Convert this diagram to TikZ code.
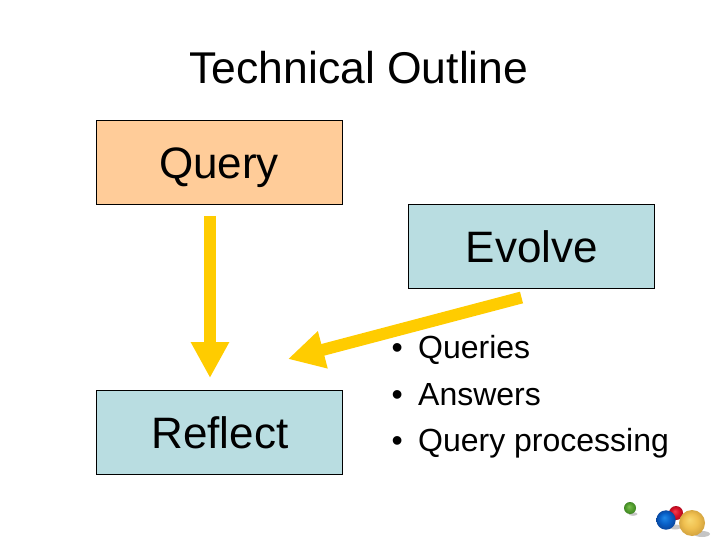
\documentclass[tikz,border=0pt]{standalone}
\usepackage{fontspec}
\setmainfont{Liberation Sans}
\usetikzlibrary{arrows.meta}
\definecolor{peach}{HTML}{FFCC99}
\definecolor{paleblue}{HTML}{B9DDE1}
\definecolor{arrowgold}{HTML}{FFCC00}
\definecolor{gA}{HTML}{7CC050}\definecolor{gB}{HTML}{55A030}\definecolor{gC}{HTML}{357A1E}
\definecolor{rA}{HTML}{F04050}\definecolor{rB}{HTML}{D81028}\definecolor{rC}{HTML}{A00818}
\definecolor{bA}{HTML}{2088E8}\definecolor{bB}{HTML}{0860C8}\definecolor{bC}{HTML}{0A3C8C}
\definecolor{yA}{HTML}{F8D870}\definecolor{yB}{HTML}{F0C050}\definecolor{yC}{HTML}{C89838}
\pgfdeclareradialshading{greensphere}{\pgfpoint{-5bp}{7bp}}{color(0bp)=(gA); color(14bp)=(gB); color(30bp)=(gC)}
\pgfdeclareradialshading{redsphere}{\pgfpoint{-5bp}{7bp}}{color(0bp)=(rA); color(14bp)=(rB); color(30bp)=(rC)}
\pgfdeclareradialshading{bluesphere}{\pgfpoint{-5bp}{7bp}}{color(0bp)=(bA); color(14bp)=(bB); color(30bp)=(bC)}
\pgfdeclareradialshading{goldsphere}{\pgfpoint{-5bp}{7bp}}{color(0bp)=(yA); color(14bp)=(yB); color(30bp)=(yC)}
\tikzset{
  box/.style={draw=black,line width=0.7pt,minimum width=246pt,minimum height=84pt,inner sep=0pt,text height=32pt,text depth=0pt,font=\fontsize{44}{48}\selectfont,text=black},
  flow/.style={draw=arrowgold,line width=12pt,-{Triangle[length=36pt,width=36pt,fill=arrowgold]}},
  item/.style={anchor=base west,inner sep=0pt,font=\fontsize{32}{36}\selectfont,text=black},
  groundshade/.style={fill=black!45,draw=none,opacity=0.5},
}
\begin{document}
\begin{tikzpicture}[x=1pt,y=-1pt]
\useasboundingbox (0,0) rectangle (720,540);
\fill[white] (0,0) rectangle (720,540);
\node[anchor=base,inner sep=0pt,font=\fontsize{44.5}{48}\selectfont] (title) at (359,84) {Technical Outline};
\node[box,fill=peach] (query) at (219,162.5) {Query};
\node[box,fill=paleblue] (evolve) at (531,246) {\hspace*{2pt}Evolve};
\node[box,fill=paleblue] (reflect) at (219,432) {\hspace*{2pt}Reflect};
\coordinate (qa) at (210,216);
\coordinate (qb) at (210,378);
\coordinate (ea) at (521.5,297.5);
\coordinate (eb) at (288,359);
\draw[flow] (qa) -- (qb);
\draw[flow] (ea) -- (eb);
\node[item] (b1) at (391.5,358) {•};
\node[item] (t1) at (418,358) {Queries};
\node[item] (b2) at (391.5,405) {•};
\node[item] (t2) at (418,405) {Answers};
\node[item] (b3) at (391.5,451) {•};
\node[item] (t3) at (418,451) {Query processing};
% spheres
\fill[groundshade] (633,514) ellipse (4.5 and 1.8);
\fill[groundshade] (675,527) ellipse (6 and 2.5);
\fill[groundshade] (702,534) ellipse (8 and 3);
\shade[shading=greensphere] (630,508) circle (6);
\shade[shading=redsphere] (676,513) circle (7);
\shade[shading=bluesphere] (666,520) circle (9.7);
\shade[shading=goldsphere] (692,523) circle (13);
\end{tikzpicture}
\end{document}
